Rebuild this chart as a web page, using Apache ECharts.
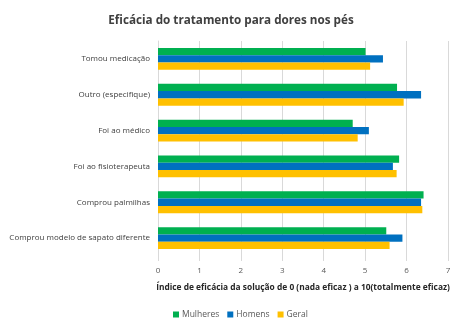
<!DOCTYPE html>
<html><head><meta charset="utf-8">
<script src="https://cdn.jsdelivr.net/npm/echarts@6/dist/echarts.min.js"></script>
<style>html,body{margin:0;padding:0;background:#fff}#c{width:462px;height:326px}</style>
</head><body><div id="c"></div>
<script>
const categories = ['Tomou medicação','Outro (especifique)','Foi ao médico','Foi ao fisioterapeuta','Comprou palmilhas','Comprou modelo de sapato diferente'];
const mulheres = [5.01, 5.77, 4.70, 5.82, 6.41, 5.51];
const homens   = [5.43, 6.35, 5.09, 5.67, 6.35, 5.90];
const geral    = [5.12, 5.93, 4.82, 5.76, 6.38, 5.59];
const xTicks = [0,1,2,3,4,5,6,7];

const chart = echarts.init(document.getElementById('c'));
const font = 'Open Sans';
function s(name, data, color){
  return {name, type:'bar', data, barWidth:7.3, barGap:'0%', barCategoryGap:'39%',
    itemStyle:{color}};
}
chart.setOption({
  animation:false,
  title:{text:'Eficácia do tratamento para dores nos pés', left:'center', top:10,
    textStyle:{fontFamily:font, fontSize:11.7, fontWeight:'bold', color:'#404040'}},
  legend:{top:305, left:168, itemWidth:6, itemHeight:6, itemGap:8,
    icon:'rect', textStyle:{fontFamily:font, fontSize:8.5, color:'#595959', padding:[0,0,0,-2]},
    data:['Mulheres','Homens','Geral']},
  grid:{left:158, right:14, top:41, bottom:70, containLabel:false},
  xAxis:{type:'value', min:0, max:7, interval:1,
    name:'Índice de eficácia da solução de 0 (nada eficaz ) a 10(totalmente eficaz)',
    nameLocation:'middle', nameGap:28,
    nameTextStyle:{fontFamily:font, fontSize:8.4, fontWeight:'bold', color:'#262626'},
    axisLine:{show:false},
    axisTick:{show:true, length:5, lineStyle:{color:'#d9d9d9'}},
    axisLabel:{fontFamily:font, fontSize:8, color:'#595959', margin:11,
      formatter:v=>xTicks.includes(v)?String(v):''},
    splitLine:{show:true, lineStyle:{color:'#d9d9d9', width:1}}},
  yAxis:{type:'category', data:categories, inverse:true,
    axisLine:{show:true, lineStyle:{color:'#d9d9d9'}},
    axisTick:{show:false},
    axisLabel:{fontFamily:font, fontSize:8, color:'#404040', margin:8}},
  series:[s('Mulheres',mulheres,'#00B050'), s('Homens',homens,'#0070C0'), s('Geral',geral,'#FFC000')]
});
</script></body></html>
